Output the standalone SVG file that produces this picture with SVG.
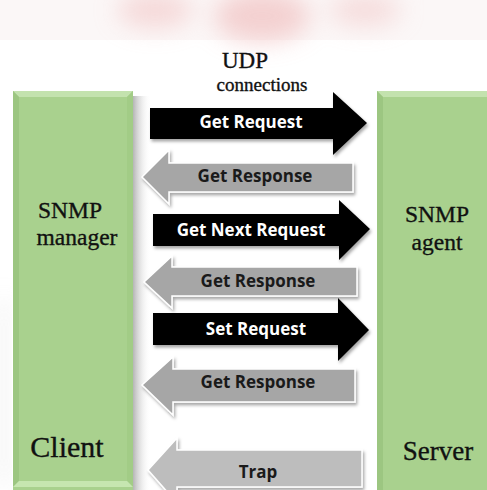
<svg xmlns="http://www.w3.org/2000/svg" width="487" height="490" viewBox="0 0 487 490">
  <defs>
    <style>
      .serif { font-family: "Liberation Serif", "Times New Roman", serif; fill: #111; stroke: #111; stroke-width: 0.35; }
      .lbl { font-family: "Open Sans", "Liberation Sans", sans-serif; font-weight: bold; font-size: 17px; text-anchor: middle; }
      .lbl-w { fill: #ffffff; }
      .lbl-d { fill: #1a1a1a; }
      .req { fill: #000000; filter: url(#shadow); }
      .resp { fill: #a6a6a6; stroke: #ffffff; stroke-width: 1.5; filter: url(#shadow); }
      .trap { fill: #bdbdbd; stroke: #ffffff; stroke-width: 1.5; filter: url(#shadow); }
      .green { fill: #a9d18e; }
    </style>
    <filter id="shadow" x="-10%" y="-20%" width="125%" height="150%">
      <feDropShadow dx="1.5" dy="2.5" stdDeviation="1.8" flood-color="#000" flood-opacity="0.35"/>
    </filter>
    <filter id="blur" x="-50%" y="-50%" width="200%" height="200%">
      <feGaussianBlur stdDeviation="12"/>
    </filter>
    <linearGradient id="sideShadow" x1="0" y1="0" x2="1" y2="0">
      <stop offset="0" stop-color="#b5b5b5"/>
      <stop offset="1" stop-color="#ffffff" stop-opacity="0"/>
    </linearGradient>
  </defs>

  <rect x="0" y="0" width="487" height="490" fill="#ffffff"/>

  <!-- faded top band -->
  <g id="top-band">
    <rect x="0" y="0" width="487" height="40" fill="#fbf7f7"/>
    <g filter="url(#blur)" opacity="0.6">
      <ellipse cx="155" cy="10" rx="38" ry="18" fill="#f2c4c4"/>
      <ellipse cx="262" cy="16" rx="48" ry="26" fill="#efb7b7"/>
      <ellipse cx="365" cy="10" rx="36" ry="16" fill="#f3caca"/>
    </g>
  </g>

  <!-- faint left edge blur -->
  <rect x="0" y="300" width="8" height="185" fill="#dddddd" filter="url(#blur)" opacity="0.6"/>

  <!-- shadow right of manager box -->
  <rect x="133" y="96" width="18" height="394" fill="url(#sideShadow)"/>

  <g id="manager">
    <rect class="green" x="13" y="91" width="120" height="399"/>
    <polygon points="13,91 133,91 127,97 19,97" fill="#c3e2ae"/>
    <polygon points="13,91 19,97 19,481 13,487" fill="#9cc681"/>
    <polygon points="133,91 127,97 127,481 133,487" fill="#a2cc86"/>
    <polygon points="13,487 19,481 127,481 133,487" fill="#c6e6b0"/>
    <text class="serif" x="70" y="218" font-size="23.5" text-anchor="middle">SNMP</text>
    <text class="serif" x="77" y="245" font-size="23.5" text-anchor="middle">manager</text>
    <text class="serif" x="67" y="457" font-size="30" text-anchor="middle">Client</text>
  </g>

  <g id="agent">
    <rect class="green" x="377" y="91" width="110" height="399"/>
    <polygon points="377,91 487,91 487,97 383,97" fill="#c3e2ae"/>
    <polygon points="377,91 383,97 383,490 377,490" fill="#9cc681"/>
    <text class="serif" x="437" y="222" font-size="23.5" text-anchor="middle">SNMP</text>
    <text class="serif" x="437" y="250" font-size="23.5" text-anchor="middle">agent</text>
    <text class="serif" x="438" y="460" font-size="27" text-anchor="middle">Server</text>
  </g>

  <g id="title">
    <text class="serif" x="245" y="68" font-size="23" text-anchor="middle">UDP</text>
    <text class="serif" x="262" y="91" font-size="19" text-anchor="middle">connections</text>
  </g>

  <g id="connectors">
    <g id="get-request">
      <polygon class="req" points="150,108 333,108 333,92 367,123 333,155 333,139 150,139"/>
      <text class="lbl lbl-w" x="251" y="128">Get Request</text>
    </g>
    <g id="get-response-1">
      <polygon class="resp" points="142,177 169,150 169,163 353,163 353,192 169,192 169,204"/>
      <text class="lbl lbl-d" x="255" y="182">Get Response</text>
    </g>
    <g id="get-next-request">
      <polygon class="req" points="153,214 339,214 339,200 370,229 339,260 339,246 153,246"/>
      <text class="lbl lbl-w" x="251" y="236">Get Next Request</text>
    </g>
    <g id="get-response-2">
      <polygon class="resp" points="144,282 172,256 172,267 357,267 357,296 172,296 172,308"/>
      <text class="lbl lbl-d" x="258" y="287">Get Response</text>
    </g>
    <g id="set-request">
      <polygon class="req" points="153,313 338,313 338,298 369,330 338,361 338,345 153,345"/>
      <text class="lbl lbl-w" x="256" y="335">Set Request</text>
    </g>
    <g id="get-response-3">
      <polygon class="resp" points="142,385 173,357 173,369 355,369 355,402 173,402 173,415"/>
      <text class="lbl lbl-d" x="258" y="388">Get Response</text>
    </g>
    <g id="trap">
      <polygon class="trap" points="148,470 177,438 177,450 362,450 362,487 177,487 177,503"/>
      <text class="lbl lbl-d" x="258" y="478">Trap</text>
    </g>
  </g>
</svg>
